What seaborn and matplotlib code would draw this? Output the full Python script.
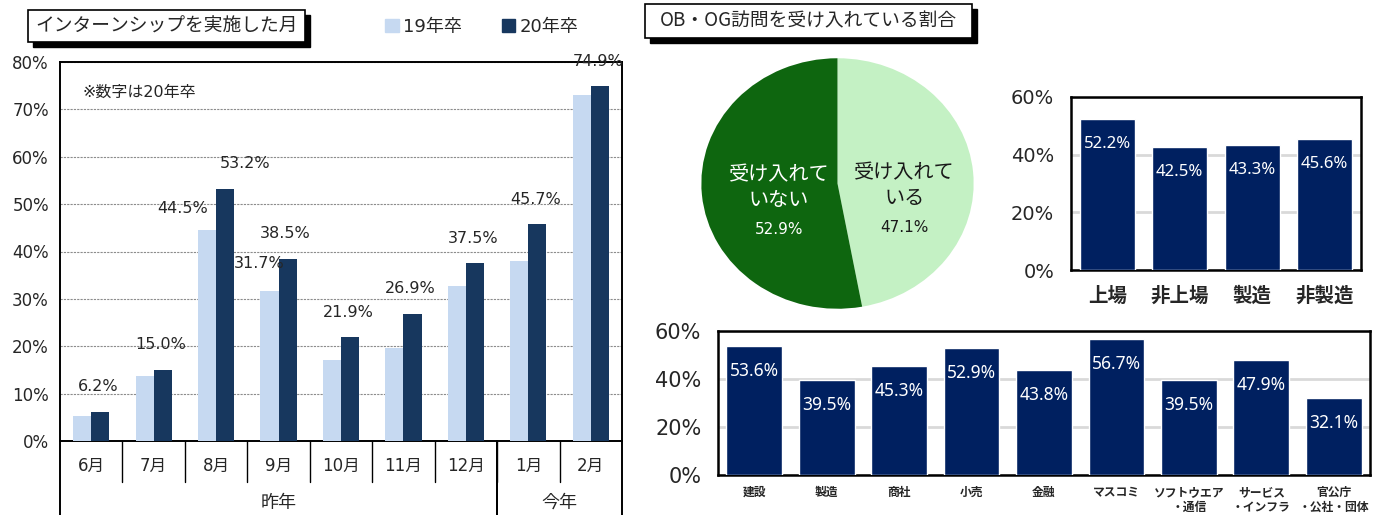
import numpy as np
import pandas as pd
import matplotlib
matplotlib.use("Agg")
import matplotlib.pyplot as plt
from matplotlib.patches import Rectangle, Patch
import seaborn as sns

# ---- data ----
months = ["6月", "7月", "8月", "9月", "10月", "11月", "12月", "1月", "2月"]
grad19 = [5.3, 13.7, 44.5, 31.7, 17.1, 19.7, 32.8, 38.0, 73.1]
grad20 = [6.2, 15.0, 53.2, 38.5, 21.9, 26.9, 37.5, 45.7, 74.9]
cohorts = ["19年卒", "20年卒"]
year_groups = [("昨年", 0, 6), ("今年", 7, 8)]

pie_labels = ["受け入れて\nいる", "受け入れて\nいない"]
pie_values = [47.1, 52.9]

size_cats = ["上場", "非上場", "製造", "非製造"]
size_vals = [52.2, 42.5, 43.3, 45.6]

ind_cats = ["建設", "製造", "商社", "小売", "金融", "マスコミ",
            "ソフトウエア\n・通信", "サービス\n・インフラ", "官公庁\n・公社・団体"]
ind_vals = [53.6, 39.5, 45.3, 52.9, 43.8, 56.7, 39.5, 47.9, 32.1]

# ---- style ----
sns.set_theme(style="white")
plt.rcParams['font.family'] = ['DejaVu Sans', 'Noto Sans CJK JP']
LIGHT = "#c6d9f1"
DARK = "#17375e"
NAVY = "#002060"
GREEN_D = "#0e660f"
GREEN_L = "#c4f1c4"

W, H = 1379, 515
fig = plt.figure(figsize=(W / 100, H / 100), dpi=100)


def fax(l, t, r, b):
    return fig.add_axes([l / W, 1 - b / H, (r - l) / W, (b - t) / H])


def title_box(l, t, r, b, text, fs):
    fig.patches.append(Rectangle((l / W + 5 / W, 1 - (b + 5) / H), (r - l) / W, (b - t) / H,
                                 transform=fig.transFigure, color="black", zorder=1))
    fig.patches.append(Rectangle((l / W, 1 - b / H), (r - l) / W, (b - t) / H,
                                 transform=fig.transFigure, facecolor="white",
                                 edgecolor="black", lw=1.2, zorder=2))
    fig.text((l + r) / 2 / W, 1 - (t + b) / 2 / H, text, ha="center", va="center",
             fontsize=fs, family=['Noto Sans CJK JP'], zorder=3)


# ---- left: internship months ----
ax = fax(60, 62, 622, 441)
df = pd.DataFrame({
    "month": months * 2,
    "cohort": [cohorts[0]] * len(months) + [cohorts[1]] * len(months),
    "value": grad19 + grad20,
})
sns.barplot(data=df, x="month", y="value", hue="cohort", order=months, hue_order=cohorts,
            palette=[LIGHT, DARK], width=0.58, saturation=1, legend=False, ax=ax,
            linewidth=0, zorder=3)
ax.set_ylim(0, 80)
ax.set_xlim(-0.5, len(months) - 0.5)
ax.set_yticks(range(0, 81, 10))
ax.set_yticklabels([f"{t}%" for t in range(0, 81, 10)], fontsize=12)
ax.set_xticks([])
ax.set_xlabel("")
ax.set_ylabel("")
ax.tick_params(axis="y", length=0, pad=8)
ax.yaxis.grid(True, linestyle=(0, (2, 1)), color="#8c8c8c", lw=0.8)
ax.set_axisbelow(True)
for s in ax.spines.values():
    s.set_color("black")
    s.set_linewidth(1.4)

off = 0.58 / 4
dx20 = {2: 20}
for i, v in enumerate(grad20):
    ax.annotate(f"{v:.1f}%", xy=(i + off, v), xytext=(dx20.get(i, -2), 25),
                textcoords="offset pixels", ha="center", va="center", fontsize=11.5)
for i, dx, dy in [(2, -24, 22), (3, -10, 27)]:
    ax.annotate(f"{grad19[i]:.1f}%", xy=(i - off, grad19[i]), xytext=(dx, dy),
                textcoords="offset pixels", ha="center", va="center", fontsize=11.5)
ax.text(0.04, 0.92, "※数字は20年卒", transform=ax.transAxes, fontsize=11.5, va="center")

# category axis underneath
trans = ax.get_xaxis_transform()
for i, m in enumerate(months):
    ax.text(i, -0.066, m, transform=trans, ha="center", va="center", fontsize=12)
for i in range(len(months) - 1):
    ax.plot([i + 0.5, i + 0.5], [0, -0.108], transform=trans, color="black", lw=1, clip_on=False)
for name, a, b in year_groups:
    ax.text((a + b) / 2, -0.163, name, transform=trans, ha="center", va="center", fontsize=13)
    for x in (a - 0.5, b + 0.5):
        ax.plot([x, x], [0, -0.25], transform=trans, color="black", lw=1.4, clip_on=False)

title_box(28, 10, 305, 42, "インターンシップを実施した月", 13.5)
fig.legend([Patch(color=LIGHT), Patch(color=DARK)], cohorts, loc="center",
           bbox_to_anchor=(482 / W, 1 - 27 / H), ncol=2, frameon=False,
           handlelength=0.75, handleheight=0.75, handletextpad=0.25,
           columnspacing=2.2, fontsize=13)

# ---- pie ----
title_box(645, 4, 972, 38, "OB・OG訪問を受け入れている割合", 13.5)
pax = fax(700, 57, 975, 310)
pax.pie(pie_values, colors=[GREEN_L, GREEN_D], startangle=90, counterclock=False,
        wedgeprops=dict(linewidth=0))
pax.set_aspect("auto")
pax.set_xlim(-1.01, 1.01)
pax.set_ylim(-1.01, 1.01)
pax.text(0.49, -0.02, pie_labels[0], ha="center", va="center", fontsize=14.5,
         color="#1a1a1a", linespacing=1.45)
pax.text(0.49, -0.35, f"{pie_values[0]:.1f}%", ha="center", va="center", fontsize=11,
         color="#1a1a1a")
pax.text(-0.43, -0.03, pie_labels[1], ha="center", va="center", fontsize=14.5,
         color="white", linespacing=1.45)
pax.text(-0.43, -0.37, f"{pie_values[1]:.1f}%", ha="center", va="center", fontsize=11,
         color="white")


# ---- right bar charts ----
def navy_bars(ax, cats, vals, tick_fs, cat_fs, lab_fs, cat_pad, width):
    sns.barplot(x=cats, y=vals, order=cats, color=NAVY, saturation=1, width=width,
                ax=ax, zorder=3)
    ax.set_ylim(0, 60)
    ax.set_xlim(-0.5, len(cats) - 0.5)
    ax.set_yticks([0, 20, 40, 60])
    ax.set_yticklabels(["0%", "20%", "40%", "60%"], fontsize=tick_fs)
    ax.tick_params(axis="y", length=0, pad=12)
    ax.tick_params(axis="x", length=0, pad=cat_pad)
    ax.set_xticks(range(len(cats)))
    ax.set_xticklabels(cats, fontsize=cat_fs, family=['Noto Sans CJK JP'],
                       fontweight="bold", va="top", linespacing=1.2)
    ax.yaxis.grid(True, color="#d9d9d9", lw=2)
    ax.set_axisbelow(True)
    for s in ax.spines.values():
        s.set_color("black")
        s.set_linewidth(1.8)
    for i, v in enumerate(vals):
        ax.annotate(f"{v:.1f}%", xy=(i, v), xytext=(0, -25), textcoords="offset pixels",
                    ha="center", va="center", color="white", fontsize=lab_fs,
                    family=['Noto Sans'], zorder=4)


tr = fax(1071, 97, 1361, 270)
navy_bars(tr, size_cats, size_vals, 14, 14, 12, 12, 0.76)

br = fax(718, 331, 1370, 475)
navy_bars(br, ind_cats, ind_vals, 15, 8.5, 12.5, 8, 0.77)

fig.savefig("out.png", dpi=100)
